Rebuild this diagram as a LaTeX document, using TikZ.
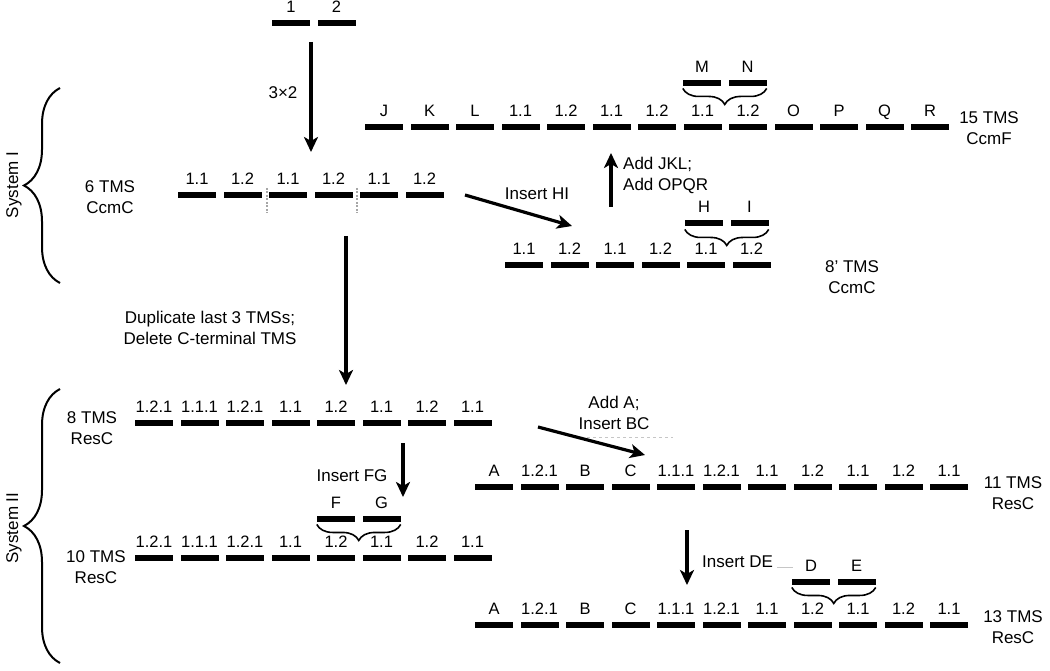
\documentclass[tikz,border=0pt]{standalone}
\usepackage{fontspec}
\setmainfont{Liberation Sans}
\usetikzlibrary{arrows.meta,decorations.pathreplacing}

% one row of TMS bars, #1 name, #2 left edge, #3 height, #4 labels
\newcommand{\tmsrow}[4]{%
  \foreach \t [count=\i] in {#4}
    \node[tms,label={[tmslbl]above:\t}] (#1-\i) at ({#2+45.5*(\i-1)+19},#3) {};}

\tikzset{
  tms/.style={fill=black,inner sep=0pt,minimum width=38pt,minimum height=6.5pt},
  tmslbl/.style={font=\fontsize{16.5}{20}\selectfont,inner sep=0pt,text depth=0pt,label distance=7pt},
  txt/.style={font=\fontsize{17}{21}\selectfont,align=center,inner sep=0pt},
  arr/.style={line width=3.2pt,-{Stealth[length=15pt,width=14pt,inset=4pt]}},
  bigbrace/.style={decorate,decoration={brace,amplitude=36pt},line width=2pt},
  smallbrace/.style={decorate,decoration={brace,mirror,amplitude=16pt},line width=1.6pt},
  cut/.style={gray!70,line width=1.8pt,dash pattern=on 2pt off 1.5pt},
  faint/.style={gray!45,line width=0.8pt},
}

\begin{document}
\begin{tikzpicture}[x=1pt,y=-1pt]  % 1 unit = 1 px of the figure
  \useasboundingbox (0,0) rectangle (1050,671);
  % ---- System I
  \tmsrow{src}{272}{23}{1,2}
  \coordinate (a1s) at (311,42);
  \coordinate (a1e) at (311,152);
  \draw[arr] (a1s) -- (a1e);
  \node[txt] (l1) at (283,93) {3×2};

  \tmsrow{c6}{178}{195}{1.1,1.2,1.1,1.2,1.1,1.2}
  \node[txt] (t6) at (110,197) {6 TMS\\CcmC};
  \draw[cut] (267,188) -- (267,213);
  \draw[cut] (357,188) -- (357,213);

  \coordinate (a2s) at (465,195);
  \coordinate (a2e) at (572,226);
  \draw[arr] (a2s) -- (a2e);
  \node[txt] (l2) at (537,194) {Insert HI};

  \tmsrow{c8}{505}{265}{1.1,1.2,1.1,1.2,1.1,1.2}
  \tmsrow{hi}{685}{223}{H,I}
  \draw[smallbrace] ([yshift=-3pt]hi-1.south west) -- ([yshift=-3pt]hi-2.south east);
  \node[txt] (t8p) at (852,277) {8' TMS\\CcmC};

  \coordinate (a3s) at (611,207);
  \coordinate (a3e) at (611,153);
  \draw[arr] (a3s) -- (a3e);
  \node[txt,anchor=west,align=left] (l3) at (623,175) {Add JKL;\\Add OPQR};

  \tmsrow{f15}{365}{127}{J,K,L,1.1,1.2,1.1,1.2,1.1,1.2,O,P,Q,R}
  \tmsrow{mn}{683}{83}{M,N}
  \draw[smallbrace] ([yshift=-2pt]mn-1.south west) -- ([yshift=-2pt]mn-2.south east);
  \node[txt] (t15) at (989,128) {15 TMS\\CcmF};

  \node[txt,rotate=90] (s1) at (14,185) {System I};
  \draw[bigbrace] (60,283) -- (60,88);

  % ---- System II
  \coordinate (a4s) at (346,236);
  \coordinate (a4e) at (346,385);
  \draw[arr] (a4s) -- (a4e);
  \node[txt] (l4) at (210,328) {Duplicate last 3 TMSs;\\Delete C-terminal TMS};

  \tmsrow{r8}{135}{423}{1.2.1,1.1.1,1.2.1,1.1,1.2,1.1,1.2,1.1}
  \node[txt] (t8) at (92,428) {8 TMS\\ResC};

  \coordinate (a5s) at (403,443);
  \coordinate (a5e) at (403,497);
  \draw[arr] (a5s) -- (a5e);
  \node[txt] (l5) at (352,476) {Insert FG};

  \tmsrow{fg}{317}{519}{F,G}
  \draw[smallbrace] ([yshift=-2pt]fg-1.south west) -- ([yshift=-2pt]fg-2.south east);
  \tmsrow{r10}{135}{558}{1.2.1,1.1.1,1.2.1,1.1,1.2,1.1,1.2,1.1}
  \node[txt] (t10) at (96,567) {10 TMS\\ResC};

  \coordinate (a6s) at (538,427);
  \coordinate (a6e) at (645,455);
  \draw[faint,dashed] (587,437) -- (673,437);
  \draw[arr] (a6s) -- (a6e);
  \node[txt] (l6) at (614,413) {Add A;\\Insert BC};

  \tmsrow{r11}{475}{487}{A,1.2.1,B,C,1.1.1,1.2.1,1.1,1.2,1.1,1.2,1.1}
  \node[txt] (t11) at (1013,493) {11 TMS\\ResC};

  \coordinate (a7s) at (687,530);
  \coordinate (a7e) at (687,585);
  \draw[arr] (a7s) -- (a7e);
  \node[txt,anchor=west] (l7) at (702,562) {Insert DE};
  \draw[faint] (l7.east) ++(4,5) -- (793,567);

  \tmsrow{de}{792}{582}{D,E}
  \draw[smallbrace] ([yshift=-2pt]de-1.south west) -- ([yshift=-2pt]de-2.south east);
  \tmsrow{r13}{475}{625}{A,1.2.1,B,C,1.1.1,1.2.1,1.1,1.2,1.1,1.2,1.1}
  \node[txt] (t13) at (1013,627) {13 TMS\\ResC};

  \node[txt,rotate=90] (s2) at (14,528) {System II};
  \draw[bigbrace] (60,663) -- (60,389);
\end{tikzpicture}
\end{document}
